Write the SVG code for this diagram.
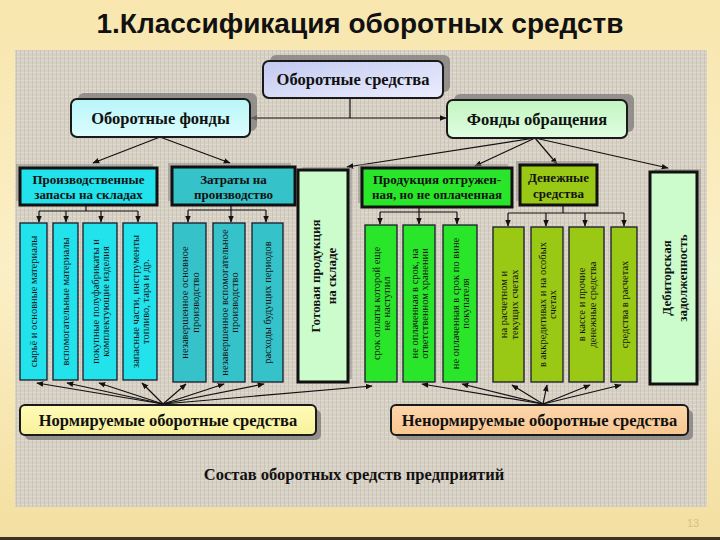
<svg xmlns="http://www.w3.org/2000/svg" width="720" height="540" viewBox="0 0 720 540">
<defs>
<linearGradient id="slideBg" x1="0" y1="0" x2="0" y2="1">
<stop offset="0" stop-color="#f8e6ae"/><stop offset="0.5" stop-color="#fbefc6"/><stop offset="1" stop-color="#f3dfa0"/>
</linearGradient>
<pattern id="tex" width="4" height="4" patternUnits="userSpaceOnUse">
<rect width="4" height="4" fill="#d7d0c4"/>
<rect width="4" height="1" fill="#e1dbd1"/>
<rect width="1" height="4" fill="#ccc4b7"/>
</pattern>
<linearGradient id="gTop" x1="0" y1="0" x2="1" y2="1"><stop offset="0" stop-color="#c2c9f0"/><stop offset="1" stop-color="#eceefd"/></linearGradient>
<linearGradient id="gOF" x1="0" y1="0" x2="0" y2="1"><stop offset="0" stop-color="#b8f6f8"/><stop offset="1" stop-color="#dcfdfd"/></linearGradient>
<linearGradient id="gFO" x1="0" y1="0" x2="0" y2="1"><stop offset="0" stop-color="#c2f5c2"/><stop offset="1" stop-color="#dffde0"/></linearGradient>
<linearGradient id="gNorm" x1="0" y1="0" x2="0" y2="1"><stop offset="0" stop-color="#fffbb8"/><stop offset="1" stop-color="#f8f19a"/></linearGradient>
<linearGradient id="gNenorm" x1="0" y1="0" x2="0" y2="1"><stop offset="0" stop-color="#fdd6ab"/><stop offset="1" stop-color="#f8c690"/></linearGradient>
<marker id="ah" viewBox="0 0 10 10" refX="9" refY="5" markerWidth="7" markerHeight="7" markerUnits="userSpaceOnUse" orient="auto">
<path d="M0,1 L10,5 L0,9 z" fill="#111"/>
</marker>
<style>
.t1{font-family:"Liberation Serif","Times New Roman",serif;font-weight:bold;font-size:16.5px;fill:#111;text-anchor:middle}
.t2{font-family:"Liberation Serif","Times New Roman",serif;font-weight:bold;font-size:13px;fill:#111;text-anchor:middle}
.tv{font-family:"Liberation Serif","Times New Roman",serif;font-size:10.5px;fill:#111;text-anchor:middle}
.tvb{font-family:"Liberation Serif","Times New Roman",serif;font-weight:bold;font-size:13px;fill:#111;text-anchor:middle}
.shadow{fill:#7c7a78;opacity:0.75}
.shadow3{fill:#8a8784;opacity:0.5}
.round{stroke:#1a1a1a;stroke-width:2}
.thick{stroke:#111;stroke-width:3}
.leaf{stroke:#1a1a2a;stroke-width:1.3}
.cyan{fill:#22e2ec}
.teal{fill:#36c2c9}
.green{fill:#2ae62a}
.ygreen{fill:#99c815}
.lgreen{fill:#ccfccc}
.c{fill:none;stroke:#111;stroke-width:1.2}
.ca{fill:none;stroke:#111;stroke-width:1.2;marker-end:url(#ah)}
</style>
</defs>

<rect x="0" y="0" width="720" height="540" fill="url(#slideBg)"/>
<rect x="0" y="537" width="720" height="3" fill="#3a3326"/>
<rect x="15" y="50" width="692" height="457" fill="url(#tex)"/>

<text x="360" y="33" font-family="'Liberation Sans',Arial,sans-serif" font-weight="bold" font-size="28" fill="#111" text-anchor="middle">1.Классификация оборотных средств</text>

<g id="connectors">
<path class="c" d="M350,98 V118"/>
<path class="ca" d="M350,118 H251"/>
<path class="ca" d="M350,118 H446"/>
<path class="ca" d="M160,137 L93,163"/>
<path class="ca" d="M160,137 L230,163"/>
<path class="ca" d="M535,138 L347,167"/>
<path class="ca" d="M535,138 L475,166"/>
<path class="ca" d="M535,138 L557,164"/>
<path class="ca" d="M535,138 L668,168"/>

<path class="c" d="M86,205 V211 M39,211 H138"/>
<path class="ca" d="M39,211 V222"/><path class="ca" d="M66,211 V222"/><path class="ca" d="M101,211 V222"/><path class="ca" d="M138,211 V222"/>
<path class="c" d="M231,205 V210 M188,210 H266"/>
<path class="ca" d="M188,210 V222"/><path class="ca" d="M231,210 V222"/><path class="ca" d="M266,210 V222"/>
<path class="c" d="M419,207 V212 M380,212 H457"/>
<path class="ca" d="M380,212 V224"/><path class="ca" d="M419,212 V224"/><path class="ca" d="M457,212 V224"/>
<path class="c" d="M563,205 V213 M508,213 H624"/>
<path class="ca" d="M508,213 V226"/><path class="ca" d="M546,213 V226"/><path class="ca" d="M585,213 V226"/><path class="ca" d="M624,213 V226"/>

<path class="ca" d="M163,404 L37,383"/>
<path class="ca" d="M163,404 L67,383"/>
<path class="ca" d="M163,404 L99,383"/>
<path class="ca" d="M163,404 L142,383"/>
<path class="ca" d="M163,404 L186,384"/>
<path class="ca" d="M163,404 L224,384"/>
<path class="ca" d="M163,404 L264,384"/>
<path class="ca" d="M163,404 L372,386"/>

<path class="ca" d="M543,404 L422,384"/>
<path class="ca" d="M543,404 L462,384"/>
<path class="ca" d="M543,404 L512,385"/>
<path class="ca" d="M543,404 L547,385"/>
<path class="ca" d="M543,404 L590,385"/>
<path class="ca" d="M543,404 L621,385"/>
</g>

<g id="oborotnye-sredstva">
<rect class="shadow" x="270" y="55" width="180" height="37" rx="6"/>
<rect class="round" x="263" y="61" width="180" height="37" rx="6" fill="url(#gTop)"/>
<text class="t1" x="353" y="85">Оборотные средства</text>
</g>
<g id="oborotnye-fondy">
<rect class="shadow" x="78" y="93" width="179" height="38" rx="6"/>
<rect class="round" x="71" y="99" width="179" height="38" rx="6" fill="url(#gOF)"/>
<text class="t1" x="160.5" y="124">Оборотные фонды</text>
</g>
<g id="fondy-obrashcheniya">
<rect class="shadow" x="454" y="94" width="180" height="38" rx="6"/>
<rect class="round" x="447" y="100" width="180" height="38" rx="6" fill="url(#gFO)"/>
<text class="t1" x="537" y="125">Фонды обращения</text>
</g>

<g id="proizv-zapasy">
<rect class="shadow3" x="16" y="164" width="137" height="37"/>
<rect class="thick cyan" x="20" y="168" width="137" height="37"/>
<text class="t2" x="88.5" y="184">Производственные</text>
<text class="t2" x="88.5" y="199">запасы на складах</text>
</g>
<g id="zatraty">
<rect class="shadow3" x="168" y="163" width="123" height="38"/>
<rect class="thick teal" x="172" y="167" width="123" height="38"/>
<text class="t2" x="233.5" y="184">Затраты на</text>
<text class="t2" x="233.5" y="199">производство</text>
</g>
<g id="gotovaya">
<rect class="shadow3" x="302" y="167" width="50" height="212"/>
<rect class="thick lgreen" x="298" y="170" width="50" height="212"/>
<g transform="translate(323,276) rotate(-90)">
<text class="tvb" x="0" y="-3">Готовая продукция</text>
<text class="tvb" x="0" y="13">на складе</text>
</g>
</g>
<g id="otgruzhennaya">
<rect class="shadow3" x="358" y="164" width="150" height="39"/>
<rect class="thick green" x="362" y="168" width="150" height="39"/>
<text class="t2" x="437" y="184">Продукция отгружен-</text>
<text class="t2" x="437" y="199">ная, но не оплаченная</text>
</g>
<g id="denezhnye">
<rect class="shadow3" x="516" y="161" width="77" height="40"/>
<rect class="thick ygreen" x="520" y="165" width="77" height="40"/>
<text class="t2" x="558.5" y="182">Денежные</text>
<text class="t2" x="558.5" y="198">средства</text>
</g>
<g id="debitorskaya">
<rect class="shadow3" x="654" y="169" width="47" height="212"/>
<rect class="thick lgreen" x="650" y="172" width="47" height="212"/>
<g transform="translate(673.5,278) rotate(-90)">
<text class="tvb" x="0" y="-3">Дебиторская</text>
<text class="tvb" x="0" y="13">задолженность</text>
</g>
</g>

<g id="leaf-1">
<rect class="leaf cyan" x="20" y="223" width="27" height="157"/>
<text class="tv" transform="translate(33.5,301.5) rotate(-90)" y="3.5">сырьё и основные материалы</text>
</g>
<g id="leaf-2">
<rect class="leaf cyan" x="53" y="223" width="25" height="157"/>
<text class="tv" transform="translate(65.5,301.5) rotate(-90)" y="3.5">вспомогательные материалы</text>
</g>
<g id="leaf-3">
<rect class="leaf cyan" x="83" y="223" width="34" height="157"/>
<g transform="translate(100,301.5) rotate(-90)">
<text class="tv" y="-1.5">покупные полуфабрикаты и</text>
<text class="tv" y="9">комплектующие изделия</text>
</g>
</g>
<g id="leaf-4">
<rect class="leaf cyan" x="123" y="223" width="34" height="157"/>
<g transform="translate(140,301.5) rotate(-90)">
<text class="tv" y="-1.5">запасные части, инструменты</text>
<text class="tv" y="9">топливо, тара и др.</text>
</g>
</g>
<g id="leaf-5">
<rect class="leaf teal" x="173" y="223" width="33" height="159"/>
<g transform="translate(189.5,302.5) rotate(-90)">
<text class="tv" y="-1.5">незавершенное основное</text>
<text class="tv" y="9">производство</text>
</g>
</g>
<g id="leaf-6">
<rect class="leaf teal" x="213" y="223" width="32" height="159"/>
<g transform="translate(229,302.5) rotate(-90)">
<text class="tv" y="-1.5">незавершенное вспомогательное</text>
<text class="tv" y="9">производство</text>
</g>
</g>
<g id="leaf-7">
<rect class="leaf teal" x="252" y="223" width="31" height="159"/>
<text class="tv" transform="translate(267.5,302.5) rotate(-90)" y="3.5">расходы будущих периодов</text>
</g>
<g id="leaf-9">
<rect class="leaf green" x="365" y="225" width="32" height="157"/>
<g transform="translate(381,303.5) rotate(-90)">
<text class="tv" y="-1.5">срок оплаты которой еще</text>
<text class="tv" y="9" font-size="8.5">не наступил</text>
</g>
</g>
<g id="leaf-10">
<rect class="leaf green" x="403" y="225" width="32" height="157"/>
<g transform="translate(419,303.5) rotate(-90)">
<text class="tv" y="-1.5">не оплаченная в срок, на</text>
<text class="tv" y="9">ответственном хранении</text>
</g>
</g>
<g id="leaf-11">
<rect class="leaf green" x="443" y="225" width="34" height="157"/>
<g transform="translate(460,303.5) rotate(-90)">
<text class="tv" y="-1.5">не оплаченная в срок по вине</text>
<text class="tv" y="9">покупателя</text>
</g>
</g>
<g id="leaf-12">
<rect class="leaf ygreen" x="493" y="227" width="31" height="155"/>
<g transform="translate(508.5,304.5) rotate(-90)">
<text class="tv" y="-1.5">на расчетном и</text>
<text class="tv" y="9">текущих счетах</text>
</g>
</g>
<g id="leaf-13">
<rect class="leaf ygreen" x="531" y="227" width="32" height="155"/>
<g transform="translate(547,304.5) rotate(-90)">
<text class="tv" y="-1.5">в аккредитивах и на особых</text>
<text class="tv" y="9">счетах</text>
</g>
</g>
<g id="leaf-14">
<rect class="leaf ygreen" x="569" y="227" width="35" height="155"/>
<g transform="translate(586.5,304.5) rotate(-90)">
<text class="tv" y="-1.5">в кассе и прочие</text>
<text class="tv" y="9">денежные средства</text>
</g>
</g>
<g id="leaf-15">
<rect class="leaf ygreen" x="611" y="227" width="26" height="155"/>
<text class="tv" transform="translate(624,304.5) rotate(-90)" y="3.5">средства в расчетах</text>
</g>

<g id="normiruemye">
<rect class="shadow" x="25" y="410" width="296" height="30" rx="5"/>
<rect class="round" x="20" y="405" width="296" height="30" rx="5" fill="url(#gNorm)" stroke-width="1.5"/>
<text class="t1" x="168" y="426" font-size="17">Нормируемые оборотные средства</text>
</g>
<g id="nenormiruemye">
<rect class="shadow" x="396" y="410" width="297" height="30" rx="5"/>
<rect class="round" x="391" y="405" width="297" height="30" rx="5" fill="url(#gNenorm)" stroke-width="1.5"/>
<text class="t1" x="539.5" y="426" font-size="17">Ненормируемые оборотные средства</text>
</g>

<text x="354" y="480" font-family="'Liberation Serif','Times New Roman',serif" font-weight="bold" font-size="16.5" fill="#111" text-anchor="middle">Состав оборотных средств предприятий</text>
<text x="693" y="527" font-family="'Liberation Sans',Arial,sans-serif" font-size="11" fill="#d8c283" text-anchor="middle">13</text>
</svg>
